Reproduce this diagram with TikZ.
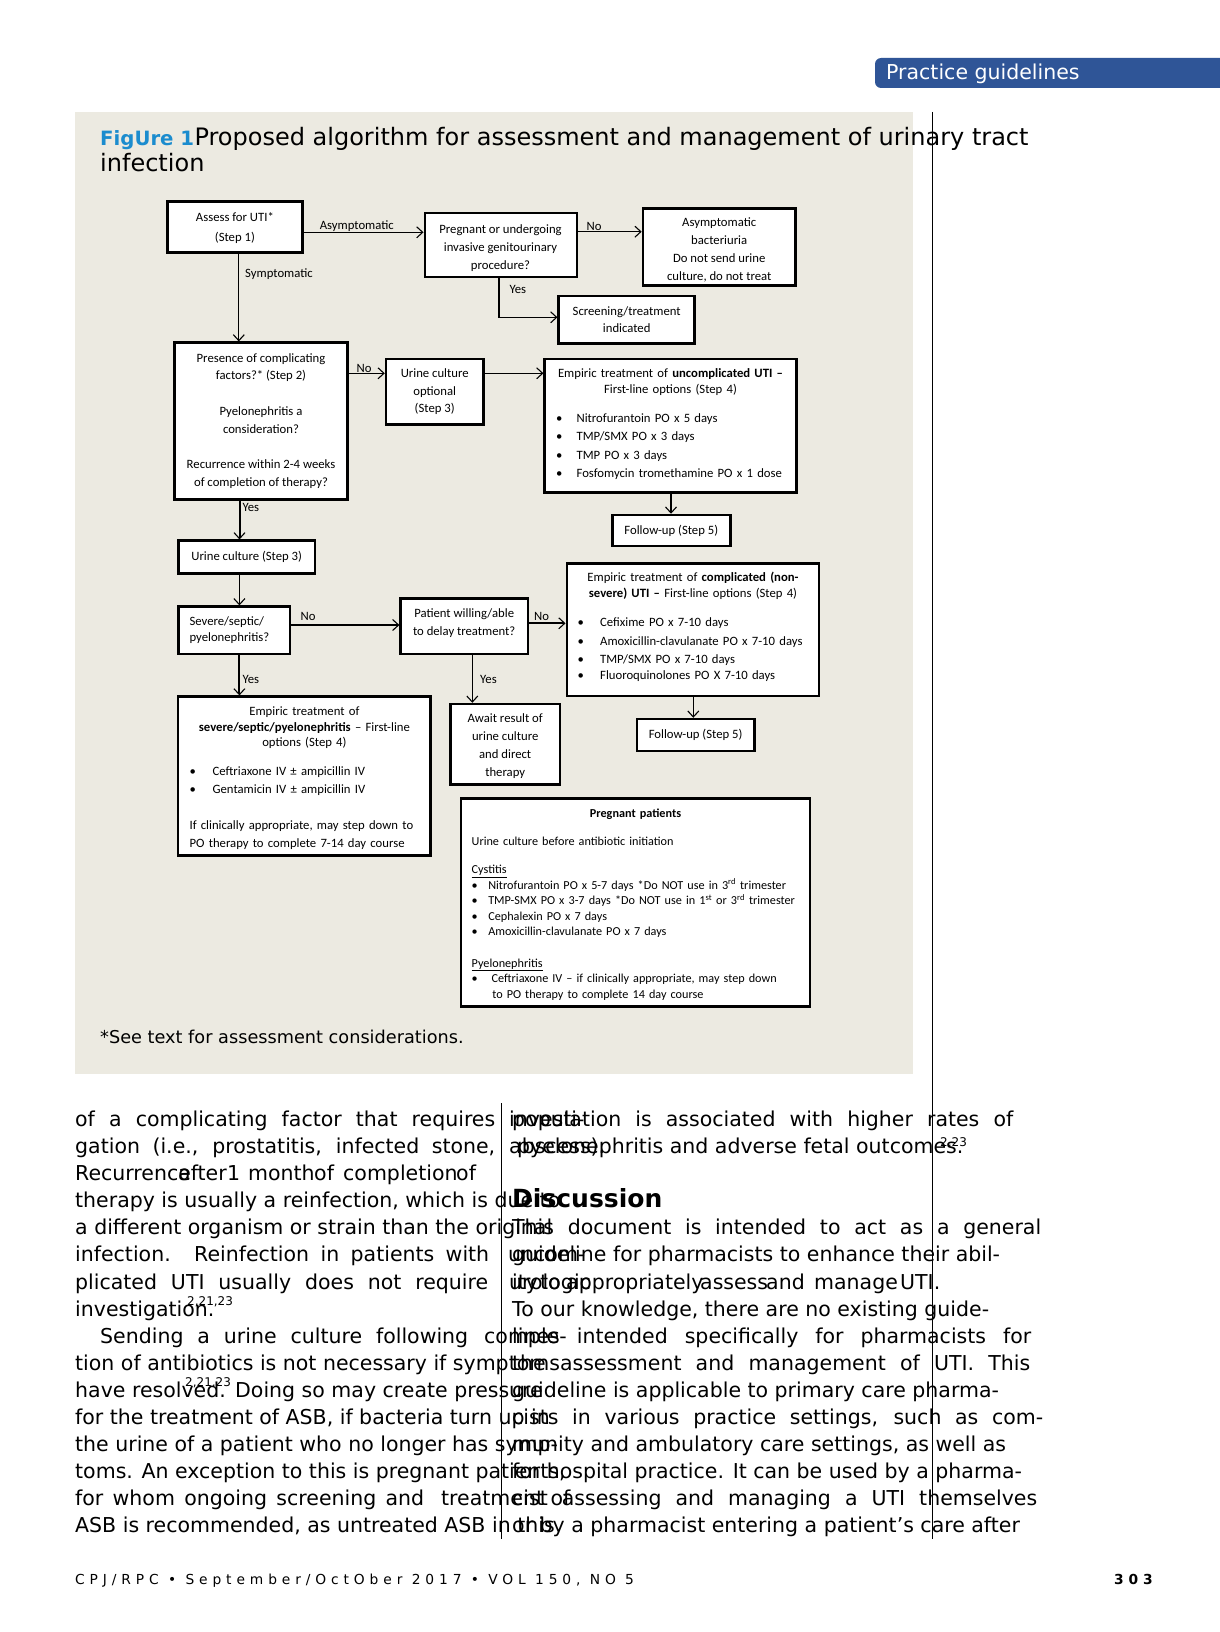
\documentclass[tikz,border=0pt]{standalone}
\usepackage{fontspec}
\setmainfont{DejaVu Sans}
\newfontfamily\fc{Carlito}
\newfontfamily\footfont[LetterSpace=35.5]{DejaVu Sans}
\usetikzlibrary{arrows.meta}
\definecolor{panelgray}{RGB}{236,234,225}
\definecolor{bannerblue}{RGB}{47,85,151}
\definecolor{figblue}{RGB}{27,140,206}
\newcommand\bl[1]{\makebox[#1][l]{•}}
\newcommand\mc[1]{\makebox[\linewidth]{#1}}
\newcommand\dn[1]{\rule{0pt}{\dimexpr\fontcharht\font`d+#1\relax}}
\newcommand\up[1]{\rule[-\dimexpr\fontchardp\font`g+#1\relax]{0pt}{\dimexpr\fontchardp\font`g+#1\relax}}
\begin{document}
\begin{tikzpicture}[x=1pt,y=-1pt,
  box/.style={draw, line width=2.5pt, fill=white, inner sep=0pt, align=center,
     font=\fc\fontsize{12.7}{17.8}\selectfont},
  lbox/.style={box, align=left},
  conn/.style={line width=1.1pt},
  arr/.style={conn, -{Straight Barb[length=6pt,width=11pt,line width=1.1pt]}},
  lbl/.style={inner sep=0pt, font=\fc\fontsize{12.7}{15}\selectfont},
  body/.style={anchor=base west, inner sep=0pt, font=\fontsize{20.5}{24}\selectfont},
  supr/.style={anchor=base west, inner sep=0pt, font=\fontsize{12}{14}\selectfont},
]
\fill[white] (0,0) rectangle (1219,1632);
\useasboundingbox (0,0) rectangle (1219,1632);
% banner
\fill[bannerblue, rounded corners=6pt] (875,58) rectangle (1235,88);
\node[anchor=base west, inner sep=0pt, text=white, font=\fontsize{20.5}{24}\selectfont] (bantext) at (886,80) {Practice guidelines};
% panel
\fill[panelgray] (75,112) rectangle (913,1074);
\draw[line width=0.9pt] (932,112) -- (932,1539);
\draw[line width=0.9pt] (501,1103) -- (501,1539);
% title
\node[anchor=base west, inner sep=0pt, text=figblue, font=\bfseries\fontsize{19.7}{22}\selectfont] (figlab) at (100,145.5) {FigUre 1};
\node[anchor=base west, inner sep=0pt, font=\fontsize{24}{26}\selectfont] (title1) at (figlab.base east) {Proposed algorithm for assessment and management of urinary tract};
\node[anchor=base west, inner sep=0pt, font=\fontsize{24}{26}\selectfont] (title2) at (100,172) {infection};

% flowchart boxes
\node[box, minimum width=134.7pt, minimum height=51pt] (assess) at (234.9,227.2) {\dn{2pt}Assess for UTI*\\[2pt](Step 1)};
\node[box, line width=2pt, minimum width=152pt, minimum height=64.6pt] (preg) at (500.5,245) {\dn{6.2pt}Pregnant or undergoing\\invasive genitourinary\\procedure?};
\node[box, minimum width=152.5pt, minimum height=77.4pt] (asb) at (719.2,247) {\dn{6.2pt}Asymptomatic\\bacteriuria\\Do not send urine\\culture, do not treat};
\node[box, minimum width=136pt, minimum height=47.3pt] (screen) at (626.7,319.7) {Screening/treatment\\[-1pt]indicated};
\node[box, minimum width=173pt, minimum height=156.6pt] (pres) at (261,421) {Presence of complicating\\factors?* (Step 2)\\[17.8pt]Pyelonephritis a\\consideration?\\[17.8pt]Recurrence within 2-4 weeks\\of completion of therapy?};
\node[box, minimum width=97.3pt, minimum height=65.3pt] (ucopt) at (434.7,391.7) {Urine culture\\optional\\(Step 3)};
\node[lbox, text width=229pt, inner xsep=11.3pt, minimum height=133.3pt] (uncomp) at (670.5,425.7) {\mc{Empiric treatment of \textbf{uncomplicated UTI –}}\\[-2.2pt]
\mc{First-line options (Step 4)}\\[11.4pt]
\bl{20.6pt}Nitrofurantoin PO x 5 days\\[0.4pt]
\bl{20.6pt}TMP/SMX PO x 3 days\\[0.4pt]
\bl{20.6pt}TMP PO x 3 days\\[0.4pt]
\bl{20.6pt}Fosfomycin tromethamine PO x 1 dose\up{3pt}};
\node[box, minimum width=118pt, minimum height=31pt] (fu1) at (671.3,530.5) {Follow-up (Step 5)};
\node[box, minimum width=136.2pt, minimum height=32.6pt] (uc) at (246.7,557) {Urine culture (Step 3)};
\node[lbox, text width=231pt, inner xsep=10.7pt, minimum height=132.7pt] (comp) at (693,629.7) {\mc{Empiric treatment of \textbf{complicated (non-}}\\[-2.2pt]
\mc{\textbf{severe) UTI –} First-line options (Step 4)}\\[11.3pt]
\bl{22.7pt}Cefixime PO x 7-10 days\\[0.9pt]
\bl{22.7pt}Amoxicillin-clavulanate PO x 7-10 days\\[0.9pt]
\bl{22.7pt}TMP/SMX PO x 7-10 days\\[-2.2pt]
\bl{22.7pt}Fluoroquinolones PO X 7-10 days\up{5.2pt}};
\node[lbox, text width=89.6pt, inner xsep=10.9pt, minimum height=47.3pt] (sev) at (234.4,630.3) {Severe/septic/\\[-2.2pt]pyelonephritis?};
\node[box, minimum width=127.1pt, minimum height=55.7pt] (pat) at (464.2,626.2) {Patient willing/able\\[-0.4pt]to delay treatment?\up{6pt}};
\node[box, minimum width=117.4pt, minimum height=32pt] (fu2) at (695.6,735) {Follow-up (Step 5)};
\node[lbox, text width=229.7pt, inner xsep=11.4pt, minimum height=159pt] (sevtx) at (304.4,776.2) {\dn{4pt}\mc{Empiric treatment of}\\[-2.2pt]
\mc{\textbf{severe/septic/pyelonephritis} – First-line}\\[-2.2pt]
\mc{options (Step 4)}\\[11.3pt]
\bl{23.1pt}Ceftriaxone IV ± ampicillin IV\\[-0.1pt]
\bl{23.1pt}Gentamicin IV ± ampicillin IV\\[18.6pt]
If clinically appropriate, may step down to\\[-0.1pt]
PO therapy to complete 7-14 day course};
\node[box, minimum width=109.5pt, minimum height=80.3pt] (await) at (505.2,744.2) {\dn{4pt}Await result of\\urine culture\\and direct\\therapy};
\node[lbox, text width=327.6pt, inner xsep=10.7pt, minimum height=208.4pt, font=\fc\fontsize{12.2}{15.6}\selectfont] (pregpt) at (635.5,902.5) {\dn{4.2pt}\mc{\textbf{Pregnant patients}}\\[12.5pt]
Urine culture before antibiotic initiation\\[12.5pt]
\underline{Cystitis}\\
\mbox{\bl{16.6pt}Nitrofurantoin PO x 5-7 days *Do NOT use in 3\textsuperscript{rd} trimester}\\
\mbox{\bl{16.6pt}TMP-SMX PO x 3-7 days *Do NOT use in 1\textsuperscript{st} or 3\textsuperscript{rd} trimester}\\
\bl{16.6pt}Cephalexin PO x 7 days\\
\bl{16.6pt}Amoxicillin-clavulanate PO x 7 days\\[15.6pt]
\underline{Pyelonephritis}\\
\mbox{\bl{20pt}Ceftriaxone IV – if clinically appropriate, may step down}\\
\hspace*{20.6pt}to PO therapy to complete 14 day course};

% connectors
\draw[arr] (assess.east |- 0,232.3) -- (preg.west |- 0,232.3);
\node[lbl] (lasym) at (356.8,226) {Asymptomatic};
\draw[arr] (preg.east |- 0,231.7) -- (asb.west |- 0,231.7);
\node[lbl] (lno1) at (594,226.7) {No};
\draw[arr] (preg.south -| 499,0) |- (screen.west |- 0,317.3);
\node[lbl, anchor=west] (lyes1) at (509.4,289.3) {Yes};
\draw[arr] (assess.south -| 238.8,0) -- (pres.north -| 238.8,0);
\node[lbl, anchor=west] (lsym) at (245,274.3) {Symptomatic};
\draw[arr] (pres.east |- 0,373.3) -- (ucopt.west |- 0,373.3);
\node[lbl] (lno2) at (364,368.3) {No};
\draw[arr] (ucopt.east |- 0,373.3) -- (uncomp.west |- 0,373.3);
\draw[arr] (uncomp.south -| 671,0) -- (fu1.north -| 671,0);
\draw[arr, line width=2pt] (pres.south -| 239.5,0) -- (uc.north -| 239.5,0);
\node[lbl, anchor=west] (lyes2) at (242.4,507.5) {Yes};
\draw[arr] (uc.south -| 239.4,0) -- (sev.north -| 239.4,0);
\draw[arr] (sev.east |- 0,625) -- (pat.west |- 0,625);
\node[lbl] (lno3) at (308,616.7) {No};
\draw[arr, line width=2.2pt] (pat.east |- 0,623.3) -- (comp.west |- 0,623.3);
\node[lbl] (lno4) at (541.6,616.7) {No};
\draw[arr] (comp.south -| 693.3,0) -- (fu2.north -| 693.3,0);
\draw[arr, line width=2pt] (sev.south -| 239.4,0) -- (sevtx.north -| 239.4,0);
\node[lbl, anchor=west] (lyes3) at (242.4,679) {Yes};
\draw[arr] (pat.south -| 472.3,0) -- (await.north -| 472.3,0);
\node[lbl, anchor=west] (lyes4) at (480,679) {Yes};

% footnote
\node[anchor=base west, inner sep=0pt, font=\fontsize{17.7}{20}\selectfont] (fnote) at (100,1043) {*See text for assessment considerations.};

% left column
\node[body] (l0) at (75,1126.6) {\makebox[420pt][s]{of a complicating factor that requires}};
\node[body] (l0b) at (509,1126.6) {investi-};
\node[body] (l1) at (75,1153.7) {\makebox[420pt][s]{gation (i.e., prostatitis, infected stone,}};
\node[body] (l1b) at (509,1153.7) {abscess).};
\node[body] (l2a) at (75,1180.7) {Recurrence};
\node[body] (l2b) at (178,1180.7) {after};
\node[body] (l2c) at (227,1180.7) {1};
\node[body] (l2d) at (248,1180.7) {month};
\node[body] (l2e) at (314,1180.7) {of};
\node[body] (l2f) at (343,1180.7) {completion};
\node[body] (l2g) at (456,1180.7) {of};
\node[body] (l3) at (75,1207.8) {therapy is usually a reinfection, which is due to};
\node[body] (l4) at (75,1234.9) {a different organism or strain than the original};
\node[body] (l5) at (75,1261.9) {\makebox[414pt][s]{infection. Reinfection in patients with}};
\node[body] (l5b) at (508,1261.9) {uncom-};
\node[body] (l6) at (75,1289.0) {\makebox[413pt][s]{plicated UTI usually does not require}};
\node[body] (l6b) at (509,1289.0) {urologic};
\node[body] (l7) at (75,1316.1) {investigation.};
\node[supr] (l7s) at (187,1305.5) {2,21,23};
\node[body] (l8) at (100,1343.2) {\makebox[368pt][s]{Sending a urine culture following}};
\node[body] (l8b) at (484,1343.2) {comple-};
\node[body] (l9) at (75,1370.2) {tion of antibiotics is not necessary if symptoms};
\node[body] (l10) at (75,1397.3) {have resolved.};
\node[supr] (l10s) at (185,1386.5) {2,21,23};
\node[body] (l10b) at (235,1397.3) {Doing so may create pressure};
\node[body] (l11) at (75,1424.4) {for the treatment of ASB, if bacteria turn up in};
\node[body] (l12) at (75,1451.4) {the urine of a patient who no longer has symp-};
\node[body] (l13) at (75,1478.5) {toms. An exception to this is pregnant patients,};
\node[body] (l14) at (75,1505.6) {\makebox[349pt][s]{for whom ongoing screening and}};
\node[body] (l14b) at (441,1505.6) {treatment of};
\node[body] (l15) at (75,1532.7) {ASB is recommended, as untreated ASB in this};

% right column
\node[body] (r0) at (512,1126.6) {\makebox[501pt][s]{population is associated with higher rates of}};
\node[body] (r1) at (517,1153.7) {pyelonephritis and adverse fetal outcomes.};
\node[supr] (r1s) at (940,1146) {2,23};
\node[anchor=base west, inner sep=0pt, font=\bfseries\fontsize{25}{28}\selectfont] (disc) at (512,1207.8) {Discussion};
\node[body] (r4) at (512,1234.9) {\makebox[529pt][s]{This document is intended to act as a general}};
\node[body] (r5) at (512,1261.9) {guideline for pharmacists to enhance their abil-};
\node[body] (r6a) at (512,1289.0) {ity};
\node[body] (r6b) at (540,1289.0) {to};
\node[body] (r6c) at (566,1289.0) {appropriately};
\node[body] (r6d) at (700,1289.0) {assess};
\node[body] (r6e) at (766,1289.0) {and};
\node[body] (r6f) at (814,1289.0) {manage};
\node[body] (r6g) at (900,1289.0) {UTI.};
\node[body] (r7) at (512,1316.1) {To our knowledge, there are no existing guide-};
\node[body] (r8) at (512,1343.2) {\makebox[519pt][s]{lines intended specifically for pharmacists for}};
\node[body] (r9) at (512,1370.2) {\makebox[518pt][s]{the assessment and management of UTI. This}};
\node[body] (r10) at (512,1397.3) {guideline is applicable to primary care pharma-};
\node[body] (r11) at (512,1424.4) {\makebox[531pt][s]{cists in various practice settings, such as com-}};
\node[body] (r12) at (512,1451.4) {munity and ambulatory care settings, as well as};
\node[body] (r13) at (512,1478.5) {for hospital practice. It can be used by a pharma-};
\node[body] (r14) at (512,1505.6) {\makebox[525pt][s]{cist assessing and managing a UTI themselves}};
\node[body] (r15) at (512,1532.7) {or by a pharmacist entering a patient’s care after};

% footer
\node[anchor=base west, inner sep=0pt, font=\footfont\fontsize{13.8}{15}\selectfont] (foot) at (75,1584) {CPJ/RPC • September/OctOber 2017 • VOL 150, NO 5};
\node[anchor=base west, inner sep=0pt, font=\footfont\bfseries\fontsize{13.8}{15}\selectfont] (pageno) at (1114,1584) {303};
\end{tikzpicture}
\end{document}
